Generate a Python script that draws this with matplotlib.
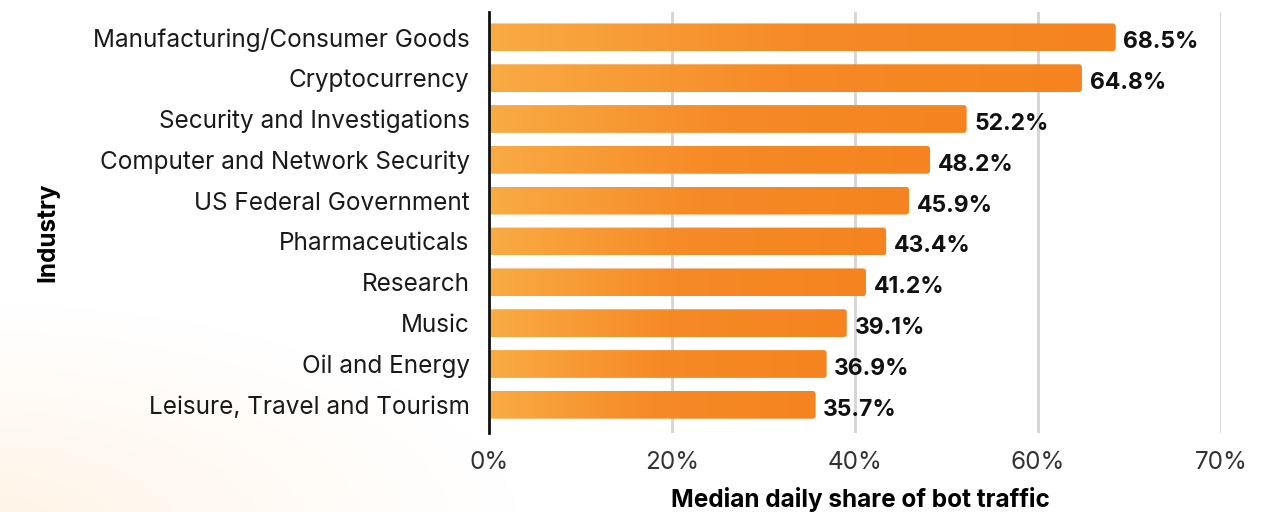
import numpy as np
import matplotlib
matplotlib.use("Agg")
import matplotlib.pyplot as plt
from matplotlib.patches import FancyBboxPatch
from matplotlib.colors import LinearSegmentedColormap

industries = ["Manufacturing/Consumer Goods", "Cryptocurrency", "Security and Investigations",
              "Computer and Network Security", "US Federal Government", "Pharmaceuticals",
              "Research", "Music", "Oil and Energy", "Leisure, Travel and Tourism"]
shares = [68.5, 64.8, 52.2, 48.2, 45.9, 43.4, 41.2, 39.1, 36.9, 35.7]
# the reference places its last tick (labelled "70%") at the 80 position
xticks = [0, 20, 40, 60, 80]
xtick_labels = ["0%", "20%", "40%", "60%", "70%"]

plt.rcParams['font.family'] = ['Inter', 'DejaVu Sans']

W, H = 1268, 512
fig = plt.figure(figsize=(W / 100, H / 100), dpi=100)

# faint background glow bottom-left
bg = fig.add_axes([0, 0, 1, 1], zorder=-10)
yy, xx = np.mgrid[0:H, 0:W]
d = np.sqrt(((xx + 40) / 560.0) ** 2 + ((yy - H - 20) / 230.0) ** 2)
a = np.clip(1 - d, 0, 1) ** 1.2
img = np.ones((H, W, 3))
tint = np.array([1.0, 0.95, 0.89])
img = img * (1 - a[..., None]) + tint * a[..., None]
bg.imshow(img, extent=(0, W, H, 0), aspect='auto')
bg.set_xlim(0, W); bg.set_ylim(H, 0)
bg.axis('off')

ax = fig.add_axes([489 / W, 1 - 433 / H, (1221 - 489) / W, (433 - 12) / H])
ax.patch.set_alpha(0)

XMAX = 80
YLIM = (9.69, -0.62)
ypos = np.arange(len(industries))
bh = 0.68
bars = ax.barh(ypos, shares, height=bh, color='none', edgecolor='none', zorder=3)

cmap = LinearSegmentedColormap.from_list('g', ['#F9AB44', '#F68A26', '#F58420'])
grad = np.linspace(0, 1, 256).reshape(1, -1)

xpp = XMAX / 732.0
ypp = (YLIM[0] - YLIM[1]) / 421.0
for b, v in zip(bars, shares):
    x0, y0, w, h = b.get_x(), b.get_y(), b.get_width(), b.get_height()
    patch = FancyBboxPatch((x0, y0), w, h,
                           boxstyle=f"round,pad=0,rounding_size={3 * xpp}",
                           mutation_aspect=ypp / xpp,
                           facecolor='none', edgecolor='none', zorder=3)
    ax.add_patch(patch)
    im = ax.imshow(grad, cmap=cmap, extent=(x0, x0 + w, y0 + h, y0), aspect='auto',
                   zorder=3, interpolation='bilinear')
    im.set_clip_path(patch)
    ax.annotate(f"{v:.1f}%", xy=(x0 + w, y0 + h / 2), xytext=(5.5, -3.5),
                textcoords='offset points', va='center', ha='left',
                fontsize=16.5, fontweight='bold', color='#111111', zorder=4)
ax.set_xlim(0, XMAX)
ax.set_ylim(*YLIM)

ax.set_yticks(ypos)
ax.set_yticklabels(industries, fontsize=17.5, color='#1a1a1a')
ax.set_xticks(xticks)
ax.set_xticklabels(xtick_labels, fontsize=17.5, color='#333333')
ax.tick_params(axis='both', length=0)
ax.tick_params(axis='y', pad=14)
ax.tick_params(axis='x', pad=13)
ax.grid(axis='x', color='#d4d4d4', linewidth=2, zorder=0)
ax.set_axisbelow(True)
for s in ['top', 'right', 'bottom']:
    ax.spines[s].set_visible(False)
ax.spines['left'].set_linewidth(2)
ax.spines['left'].set_color('#111111')
ax.spines['left'].set_zorder(5)

ax.set_xlabel("Median daily share of bot traffic", fontsize=17.5, fontweight='bold')
ax.set_ylabel("Industry", fontsize=17.5, fontweight='bold')
ax.yaxis.set_label_coords((59 - 489) / 732.0, (433 - 232.5) / 421.0)
ax.xaxis.set_label_coords(0.5075, -(487 - 433) / 421.0)
ax.xaxis.label.set_va('top')

fig.savefig("out.png", dpi=100)
